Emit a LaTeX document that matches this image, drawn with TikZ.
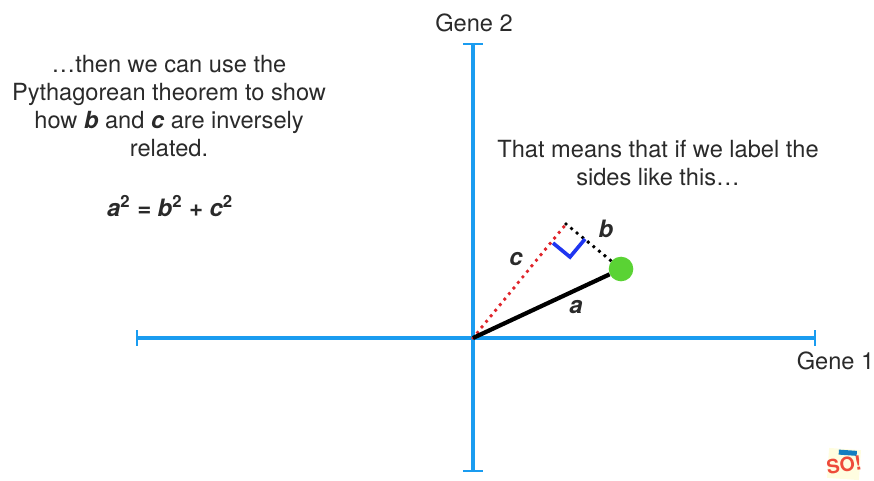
\documentclass[tikz,border=0pt]{standalone}
\usepackage{fontspec}
\setmainfont{TeX Gyre Heros}
\usetikzlibrary{positioning}
\definecolor{axisblue}{HTML}{1A9CF0}
\definecolor{dotgreen}{HTML}{5AD334}
\definecolor{markblue}{HTML}{1F35F0}
\definecolor{dotred}{HTML}{E0252B}
\definecolor{soRed}{HTML}{EE4B3A}
\definecolor{inkgray}{HTML}{2A2A2A}
\tikzset{
	axisline/.style={line width=2.9pt,axisblue},
	axistick/.style={line width=2pt,axisblue},
	sidedots/.style={line width=2.8pt,line cap=round,dash pattern=on 0pt off 5.1pt},
	caption/.style={font=\fontsize{16.8}{20.1}\selectfont,text=inkgray,align=center,inner sep=0pt},
	letter/.style={font=\fontsize{17}{18}\selectfont\bfseries\itshape,text=inkgray,inner sep=0pt}
}
\begin{document}
\begin{tikzpicture}[x=0.025cm,y=-0.025cm]
	\useasboundingbox (0,0) rectangle (874,480);

	% axes
	\coordinate (xleft) at (137,338);
	\coordinate (xright) at (815,338);
	\coordinate (ytop) at (473,44);
	\coordinate (ybot) at (473,471);
	\draw[axisline](xleft)--(xright);
	\draw[axisline](ytop)--(ybot);
	\draw[axistick]([yshift=5.5pt]xleft)--([yshift=-5.5pt]xleft);
	\draw[axistick]([yshift=5.5pt]xright)--([yshift=-5.5pt]xright);
	\draw[axistick]([xshift=-7pt]ytop)--([xshift=7pt]ytop);
	\draw[axistick]([xshift=-7pt]ybot)--([xshift=7pt]ybot);

	% triangle
	\coordinate (origin) at (473,338);
	\coordinate (corner) at (566,224);
	\node[circle,fill=dotgreen,minimum size=17.5pt,inner sep=0pt] (point) at (621,269) {};
	\draw[sidedots][dotred](origin)--(corner);
	\draw[sidedots][black](corner)--(point);
	\draw[line width=3pt][black](origin)--(point);
	\coordinate (markc) at (553,243);
	\coordinate (markm) at (570,257);
	\coordinate (markb) at (585,239);
	\draw[line width=2.6pt][markblue](markc)--(markm)--(markb);

	% labels
	\node[caption] (gene2) at (474,23) {Gene 2};
	\node[caption] (gene1) at (835.5,361) {Gene 1};
	\node[caption] (left) at (169,106) {…then we can use the\\Pythagorean theorem to show\\how \textbf{\textit{b}} and \textbf{\textit{c}} are inversely\\related.};
	\node[caption] (right) at (658,163) {That means that if we label the\\sides like this…};
	\node[caption,font=\fontsize{17}{20.2}\selectfont\bfseries\itshape] (formula) at (170,206) {a\textsuperscript{\textup{2}} = b\textsuperscript{\textup{2}} + c\textsuperscript{\textup{2}}};
	\node[letter] (sideb) at (606,229) {b};
	\node[letter] (sidec) at (516,259) {c};
	\node[letter] (sidea) at (576,307) {a};

	% logo
	\fill[yellow!12!white,rotate around={-4:(844,464)}] (828,449) rectangle (860,479);
	\fill[axisblue!80!black,rotate around={-4:(844,464)}] (838,450) rectangle (856,455);
	\node[font=\fontsize{14}{14}\selectfont\bfseries,text=soRed,inner sep=0pt,rotate=8] (logo) at (844,465) {SO!};
\end{tikzpicture}
\end{document}
